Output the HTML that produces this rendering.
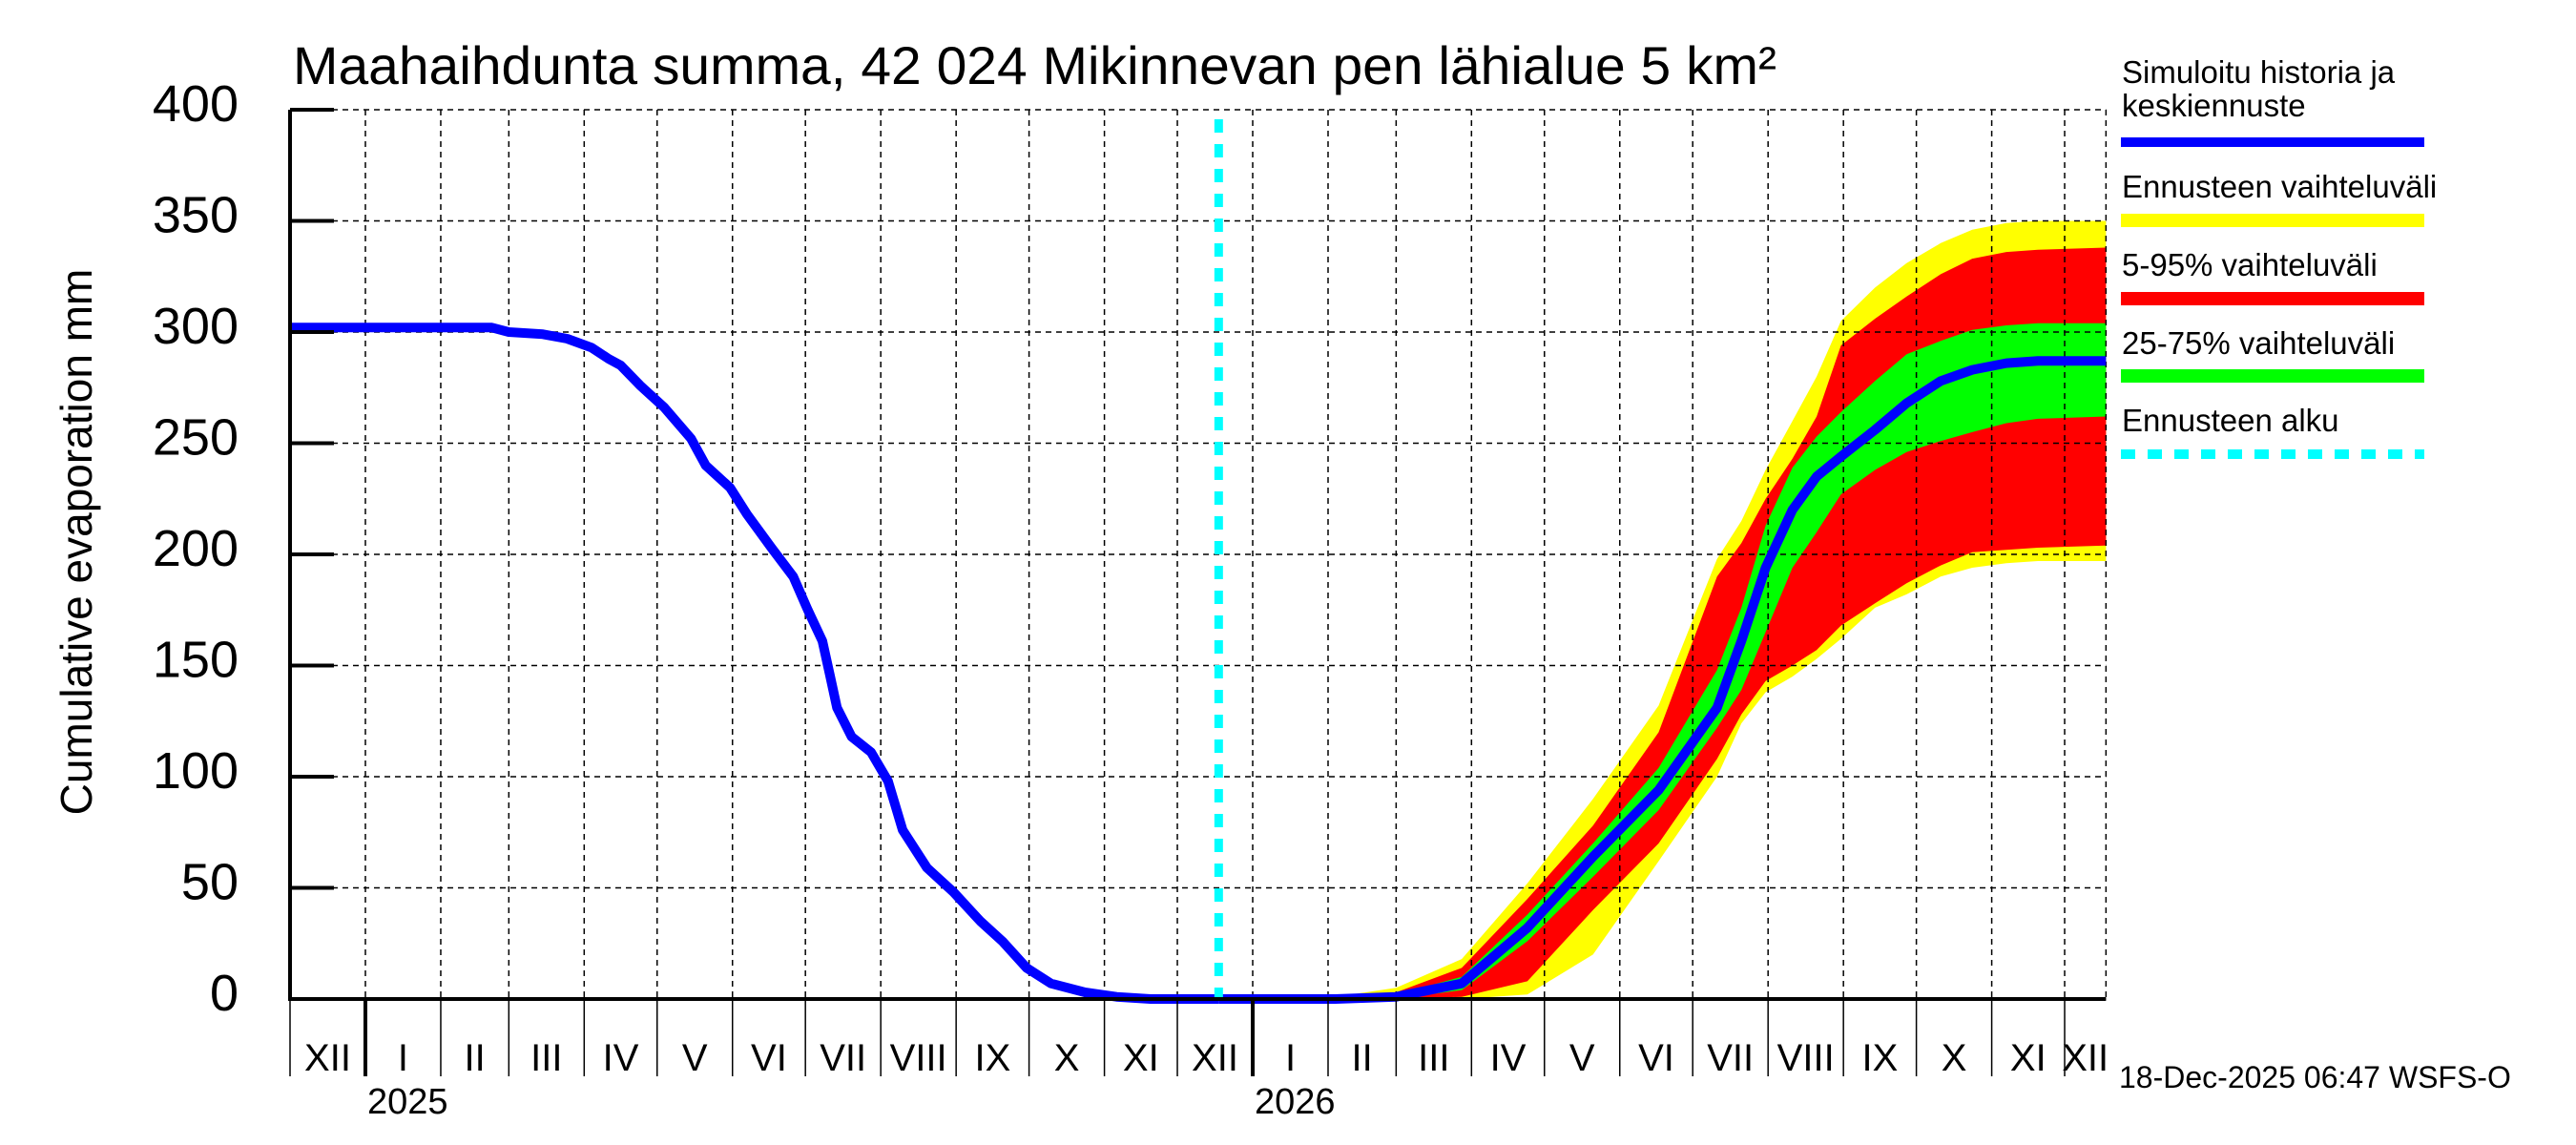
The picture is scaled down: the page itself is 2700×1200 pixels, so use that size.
<!DOCTYPE html>
<html><head><meta charset="utf-8"><style>
html,body{margin:0;padding:0;background:#fff;}
svg{display:block;font-family:"Liberation Sans",sans-serif;}
</style></head><body>
<svg id="chart" width="2700" height="1200" viewBox="0 0 2700 1200" xmlns="http://www.w3.org/2000/svg">
<text x="307" y="88" font-size="56" textLength="1555" lengthAdjust="spacingAndGlyphs">Maahaihdunta summa, 42 024 Mikinnevan pen lähialue 5 km²</text>
<text transform="translate(96,568) rotate(-90)" text-anchor="middle" font-size="46">Cumulative evaporation   mm</text>
<g id="bands"></g><g id="grid"></g><g id="lines"></g><g id="axes"></g>
<g font-size="33">
<text x="2224" y="87">Simuloitu historia ja</text>
<text x="2224" y="122">keskiennuste</text>
<rect x="2223" y="144" width="318" height="10" fill="#0000ff"/>
<text x="2224" y="207">Ennusteen vaihteluväli</text>
<rect x="2223" y="224" width="318" height="14" fill="#ffff00"/>
<text x="2224" y="289">5-95% vaihteluväli</text>
<rect x="2223" y="306" width="318" height="14" fill="#ff0000"/>
<text x="2224" y="371">25-75% vaihteluväli</text>
<rect x="2223" y="387" width="318" height="14" fill="#00ff00"/>
<text x="2224" y="452">Ennusteen alku</text>
<line x1="2223" y1="476" x2="2541" y2="476" stroke="#00ffff" stroke-width="10" stroke-dasharray="15 13"/>
</g>
<text x="2221" y="1140" font-size="32">18-Dec-2025 06:47 WSFS-O</text>
</svg>
<script>
// days since 2024-12-01
const histDays = [0,83,90,104,114,124,131,136,144,154,165,171,181,188,198,207,213,219,222,225,231,239,246,252,262,273,284,293,303,313,327,340,354,382];
const histVals = [302,302,300,299,297,293,288,285,276,266,252,240,230,218,203,190,175,161,146,131,118,111,98,76,59,48,35,26,14,7,3,1,0,0];
const fcDays = [382,430,455,482,509,536,563,587,597,607,618,628,638,652,665,679,692,706,719,747];
const fcMedian = [0,0,1,7,32,64,94,131,161,194,220,235,244,256,268,278,283,286,287,287];
const fcP25 = [0,0,0,4,26,55,85,122,139,165,194,210,227,238,246,251,255,259,261,262];
const fcP75 = [0,0,2,10,38,70,104,148,176,213,239,253,264,278,290,296,301,303,304,304];
const fcP5 = [0,0,0,1,8,40,70,108,128,143,150,157,168,178,187,195,201,202,203,204];
const fcP95 = [0,0,3,14,45,78,120,190,205,225,243,262,294,306,316,326,333,336,337,338];
const fcMin = [0,0,0,0,2,20,62,100,124,138,145,153,162,176,182,190,194,196,197,197];
const fcMax = [0,1,5,18,52,90,132,198,215,238,260,280,305,320,331,340,346,349,350,350];
const yTicks = [0,50,100,150,200,250,300,350,400];
const monthLabels = ["I","II","III","IV","V","VI","VII","VIII","IX","X","XI","XII"];
const forecastStartDay = 382;
const endDay = 747;

const NS="http://www.w3.org/2000/svg";
const X0=304, PXD=2.548, Y0=1047, PXV=2.33;
const xs=d=>X0+d*PXD, ys=v=>Y0-v*PXV;
function mk(tag,attrs,parent){const e=document.createElementNS(NS,tag);for(const k in attrs)e.setAttribute(k,attrs[k]);parent.appendChild(e);return e;}
const bands=document.getElementById('bands'),grid=document.getElementById('grid'),lines=document.getElementById('lines'),axes=document.getElementById('axes');
function band(lo,hi,color,name){
  let d='';
  fcDays.forEach((dd,i)=>{d+=(i?'L':'M')+xs(dd).toFixed(1)+','+ys(hi[i]).toFixed(1);});
  for(let i=fcDays.length-1;i>=0;i--)d+='L'+xs(fcDays[i]).toFixed(1)+','+ys(lo[i]).toFixed(1);
  const p=mk('path',{d:d+'Z',fill:color},bands);
  
  
}
band(fcMin,fcMax,'#ffff00','band-min-max');
band(fcP5,fcP95,'#ff0000','band-5-95');
band(fcP25,fcP75,'#00ff00','band-25-75');
const XR=xs(endDay);
// horizontal grid + y ticks
yTicks.forEach(v=>{
  const g=mk('line',{x1:X0,x2:XR,y1:ys(v),y2:ys(v),stroke:'#000','stroke-width':1.5,'stroke-dasharray':'6 5'},grid);
  
  
  const t=mk('line',{x1:X0,x2:X0+46,y1:ys(v),y2:ys(v),stroke:'#000','stroke-width':4},axes);
  
  
  const l=mk('text',{x:250,y:ys(v)+12,'text-anchor':'end','font-size':54},axes);
  l.textContent=v;
  
  
});
// months
const base=Date.UTC(2024,11,1);
const bounds=[];
for(let m=0;m<=25;m++){const d=(Date.UTC(2024,11+m,1)-base)/86400000;bounds.push({d:d,mo:(11+m)%12,yr:2024+Math.floor((11+m)/12)});}
bounds.forEach((b,i)=>{
  if(b.d>endDay)return;
  const x=xs(b.d);
  if(i>0){const g=mk('line',{x1:x,x2:x,y1:ys(400),y2:Y0,stroke:'#000','stroke-width':1.5,'stroke-dasharray':'6 5'},grid);
  
  }
  const jan=b.mo===0;
  const t=mk('line',{x1:x,x2:x,y1:Y0,y2:jan?1128:1128,stroke:'#000','stroke-width':jan?4:1.5},axes);
  
  
  const nd=Math.min(i+1<bounds.length?bounds[i+1].d:endDay,endDay);
  const l=mk('text',{x:(x+xs(nd))/2,y:1122,'text-anchor':'middle','font-size':40},axes);
  l.textContent=monthLabels[b.mo];
  
  
  if(jan){const y=mk('text',{x:x+2,y:1167,'font-size':38},axes);y.textContent=b.yr;
  
  }
});
const rg=mk('line',{x1:XR,x2:XR,y1:ys(400),y2:Y0,stroke:'#000','stroke-width':1.5,'stroke-dasharray':'6 5'},grid);


// lines
function poly(days,vals,name){
  const pts=days.map((d,i)=>xs(d).toFixed(1)+','+ys(vals[i]).toFixed(1)).join(' ');
  const p=mk('polyline',{points:pts,fill:'none',stroke:'#0000ff','stroke-width':10,'stroke-linejoin':'round'},lines);
  
  
}
poly(histDays,histVals,'history-line');
poly(fcDays,fcMedian,'median-forecast-line');
const fl=mk('line',{x1:xs(forecastStartDay),x2:xs(forecastStartDay),y1:125,y2:Y0,stroke:'#00ffff','stroke-width':9,'stroke-dasharray':'14 12'},lines);


// axes
const ax=mk('line',{x1:X0,x2:X0,y1:ys(400),y2:Y0+2,stroke:'#000','stroke-width':4},axes);


const bx=mk('line',{x1:X0,x2:XR,y1:Y0,y2:Y0,stroke:'#000','stroke-width':4},axes);


</script>
</body></html>
